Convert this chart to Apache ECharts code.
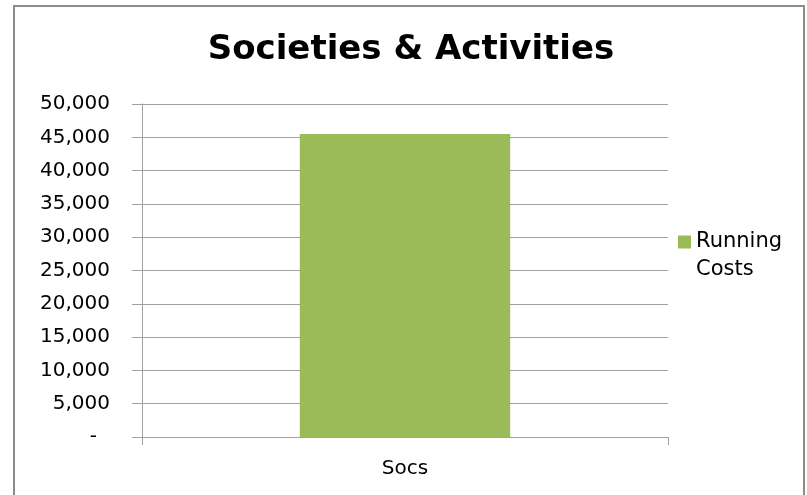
<!DOCTYPE html>
<html>
<head>
<meta charset="utf-8">
<script src="https://cdn.jsdelivr.net/npm/echarts@6/dist/echarts.min.js"></script>
<style>html,body{margin:0;padding:0;background:#fff;}#c{width:807px;height:495px;}</style>
</head>
<body>
<div id="c"></div>
<script>
const titleText = 'Societies & Activities';
const categories = ['Socs'];
const seriesName = 'Running Costs';
const runningCosts = [45500];
const yTicks = [0, 5000, 10000, 15000, 20000, 25000, 30000, 35000, 40000, 45000, 50000];

const chart = echarts.init(document.getElementById('c'), null, {renderer: 'canvas'});
const font = 'DejaVu Sans';
chart.setOption({
  animation: false,
  backgroundColor: '#ffffff',
  title: {
    text: titleText,
    left: 406, top: 28, textAlign: 'center',
    textStyle: {fontFamily: font, fontWeight: 'bold', fontSize: 34, color: '#000'}
  },
  graphic: [{
    type: 'rect', shape: {x: 14, y: 6, width: 790, height: 520},
    style: {fill: 'none', stroke: '#8c8c8c', lineWidth: 2}, silent: true
  }],
  legend: {
    orient: 'vertical', left: 673, top: 195,
    itemWidth: 13, itemHeight: 13, itemGap: 5,
    icon: 'rect',
    data: [seriesName],
    formatter: function (n) { return '\u00a0\n' + n.replace(' ', '\n'); },
    textStyle: {fontFamily: font, fontSize: 21, color: '#000', lineHeight: 28}
  },
  grid: {left: 142, right: 139, top: 104, bottom: 58, containLabel: false},
  xAxis: {
    type: 'category', data: categories, boundaryGap: true,
    axisLine: {show: true, lineStyle: {color: '#a0a0a0', width: 1}},
    axisTick: {show: true, length: 8, interval: 0, lineStyle: {color: '#a0a0a0'}},
    axisLabel: {fontFamily: font, fontSize: 20, color: '#000', margin: 22}
  },
  yAxis: {
    type: 'value', min: yTicks[0], max: yTicks[yTicks.length - 1], interval: yTicks[1] - yTicks[0],
    axisLine: {show: true, lineStyle: {color: '#a0a0a0', width: 1}},
    axisTick: {show: true, length: 10, lineStyle: {color: '#a0a0a0'}},
    splitLine: {show: true, lineStyle: {color: '#a0a0a0', width: 1}},
    axisLabel: {
      fontFamily: font, fontSize: 20, color: '#000', margin: 32,
      formatter: function (v) { return v === 0 ? '{d|-}' : v.toLocaleString('en-US'); },
      rich: {d: {fontFamily: font, fontSize: 20, color: '#000', padding: [0, 13, 0, 0]}}
    }
  },
  series: [{
    name: seriesName, type: 'bar', data: runningCosts,
    barWidth: '40%',
    itemStyle: {color: '#9bbb59'}
  }]
});
</script>
</body>
</html>
